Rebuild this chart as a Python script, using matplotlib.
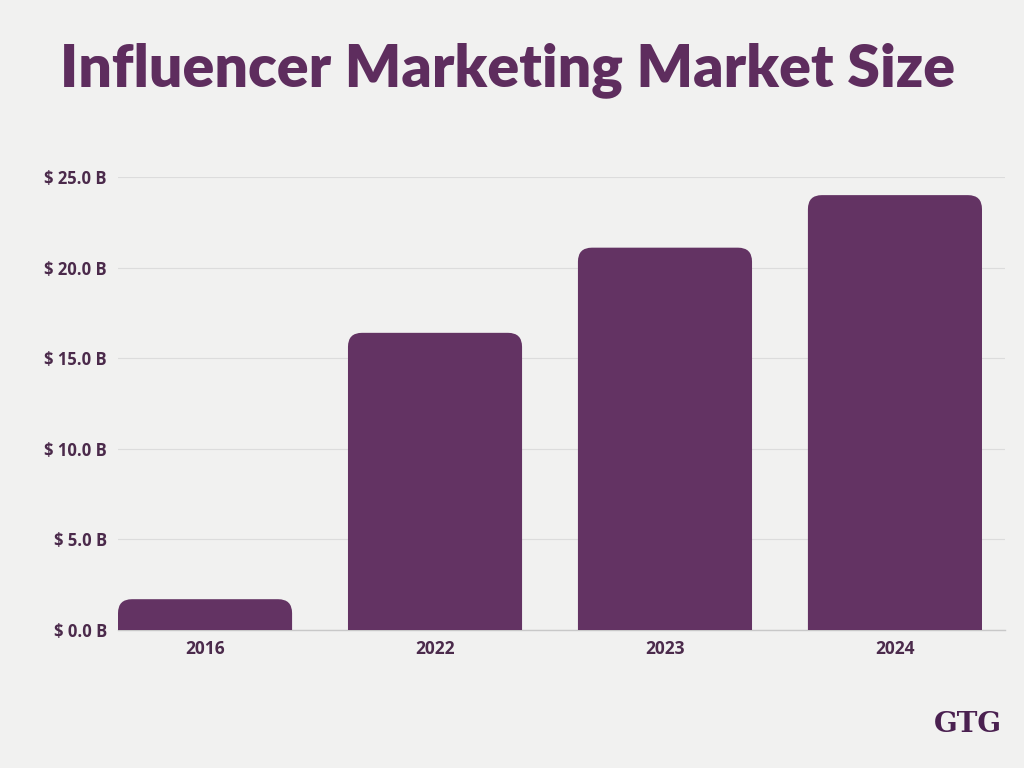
import matplotlib
matplotlib.use("Agg")
import matplotlib.pyplot as plt
from matplotlib.path import Path
from matplotlib.patches import PathPatch

years = ["2016", "2022", "2023", "2024"]
market_size = [1.7, 16.4, 21.1, 24.0]
y_ticks = [0, 5, 10, 15, 20, 25]
y_tick_labels = ["$ 0.0 B", "$ 5.0 B", "$ 10.0 B", "$ 15.0 B", "$ 20.0 B", "$ 25.0 B"]

BAR = "#633363"
TXT = "#4b2a4b"
BG = "#f1f1f0"

fig = plt.figure(figsize=(10.24, 7.68), dpi=100, facecolor=BG)
W, H = 1024, 768
ax = fig.add_axes([118 / W, 138 / H, (1005 - 118) / W, 453 / H])
ax.set_facecolor(BG)

width = 0.757
x = list(range(len(years)))
ax.set_xlim(-width / 2, 3 + width / 2 + 0.1)
ax.set_ylim(0, 25)

# pixel scale for rounded corners
bbox = ax.get_position()
ax_w_px = bbox.width * W
ax_h_px = bbox.height * H
xr = ax.get_xlim()[1] - ax.get_xlim()[0]
rpx = 14
rx = rpx * xr / ax_w_px
ry = rpx * 25 / ax_h_px

for xi, v in zip(x, market_size):
    l, r = xi - width / 2, xi + width / 2
    verts = [(l, 0), (l, v - ry), (l, v), (l + rx, v), (r - rx, v), (r, v), (r, v - ry), (r, 0), (l, 0)]
    codes = [Path.MOVETO, Path.LINETO, Path.CURVE3, Path.CURVE3, Path.LINETO, Path.CURVE3, Path.CURVE3, Path.LINETO, Path.CLOSEPOLY]
    ax.add_patch(PathPatch(Path(verts, codes), facecolor=BAR, edgecolor="none", zorder=3))

ax.set_yticks(y_ticks)
ax.set_yticklabels(y_tick_labels)
ax.set_xticks(x)
ax.set_xticklabels(years)
for lab in ax.get_yticklabels():
    lab.set_fontfamily("Open Sans")
    lab.set_fontweight("bold")
    lab.set_fontsize(12)
    lab.set_color(TXT)
for lab in ax.get_xticklabels():
    lab.set_fontfamily("Open Sans")
    lab.set_fontweight("bold")
    lab.set_fontsize(12.5)
    lab.set_color(TXT)
ax.tick_params(axis="both", length=0)
ax.tick_params(axis="y", pad=8)
ax.tick_params(axis="x", pad=7)

ax.grid(axis="y", color="#dcdcdc", linewidth=0.8, zorder=0)
for s in ["top", "right", "left"]:
    ax.spines[s].set_visible(False)
ax.spines["bottom"].set_color("#c8c8c8")
ax.spines["bottom"].set_linewidth(1)

fig.text(508 / W, 1 - 70 / H, "Influencer Marketing Market Size", ha="center", va="center",
         fontsize=42.5, fontweight="heavy", family="Lato", color="#5e2d5e")

fig.text(968 / W, 1 - 725 / H, "GTG", ha="center", va="center", fontsize=20,
         fontweight="bold", family="DejaVu Serif", color="#4a2050")

fig.savefig("out.png", dpi=100, facecolor=BG)
